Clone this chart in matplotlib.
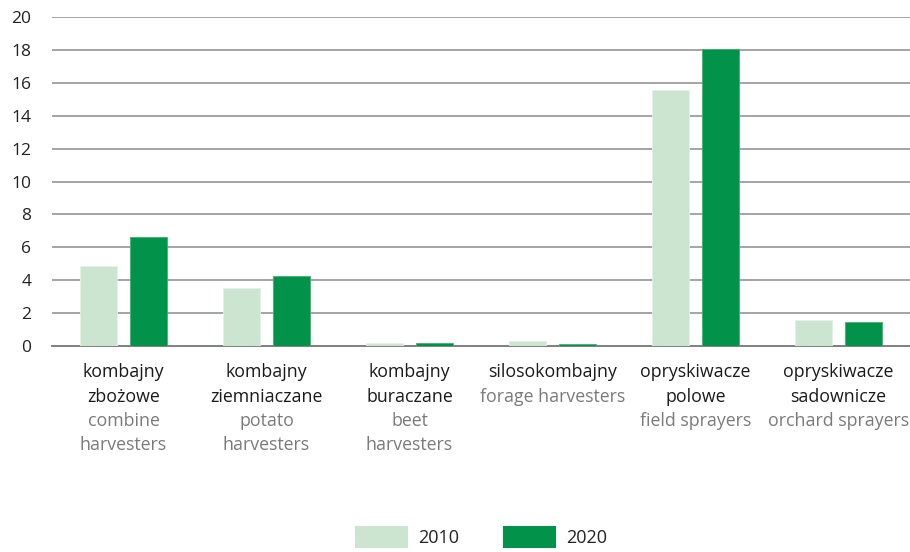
import matplotlib.pyplot as plt
import matplotlib.transforms as mtransforms
from matplotlib.patches import Patch
import numpy as np

plt.rcParams['font.family'] = ['Open Sans', 'DejaVu Sans']

# dane
labels_pl = [['kombajny', 'zbożowe'], ['kombajny', 'ziemniaczane'], ['kombajny', 'buraczane'],
             ['silosokombajny'], ['opryskiwacze', 'polowe'], ['opryskiwacze', 'sadownicze']]
labels_en = [['combine', 'harvesters'], ['potato', 'harvesters'], ['beet', 'harvesters'],
             ['forage harvesters'], ['field sprayers'], ['orchard sprayers']]
values_2010 = [4.85, 3.55, 0.2, 0.32, 15.55, 1.58]
values_2020 = [6.65, 4.25, 0.18, 0.12, 18.05, 1.48]
years = ['2010', '2020']

c_light = '#cce5d0'
c_dark = '#03924a'

fig = plt.figure(figsize=(9.1, 5.52), dpi=100)
ax = fig.add_axes([52 / 910, 1 - 346 / 552, 858 / 910, 329 / 552])

x = np.arange(len(values_2010))
w = 0.26
ax.bar(x - 0.172, values_2010, w, color=c_light, edgecolor='#e4f2e6', linewidth=0.6, zorder=3)
ax.bar(x + 0.172, values_2020, w, color=c_dark, edgecolor='#3db36e', linewidth=0.6, zorder=3)

ax.set_xlim(-0.5, 5.5)
ax.set_ylim(0, 20)
ax.set_yticks(range(0, 21, 2))
ax.tick_params(axis='y', length=0, labelsize=12.5, pad=15, labelcolor='#222222')
ax.set_xticks([])
for s in ['top', 'right', 'left']:
    ax.spines[s].set_visible(False)
ax.spines['bottom'].set_color('#808080')
ax.spines['bottom'].set_linewidth(1.4)
ax.yaxis.grid(True, color='#8c8c8c', linewidth=1.1, zorder=0)
ax.set_axisbelow(True)

# podpisy kategorii
trans = mtransforms.blended_transform_factory(ax.transData, fig.transFigure)
line_h = 24.5 / 552
y0 = 1 - 372 / 552
for i in range(len(x)):
    lines = [(t, '#1a1a1a') for t in labels_pl[i]] + [(t, '#7a7a7a') for t in labels_en[i]]
    for j, (t, c) in enumerate(lines):
        ax.text(x[i], y0 - j * line_h, t, transform=trans, ha='center', va='center',
                fontsize=12.8, color=c)

# legenda
handles = [Patch(facecolor=c_light, edgecolor='none'), Patch(facecolor=c_dark, edgecolor='none')]
fig.legend(handles, years, loc='center', bbox_to_anchor=(481 / 910, 1 - 537 / 552), ncol=2,
           frameon=False, fontsize=13, handlelength=2.95, handleheight=1.5,
           handletextpad=0.55, columnspacing=2.4, labelcolor='#222222')

fig.savefig('out.png', dpi=100)
